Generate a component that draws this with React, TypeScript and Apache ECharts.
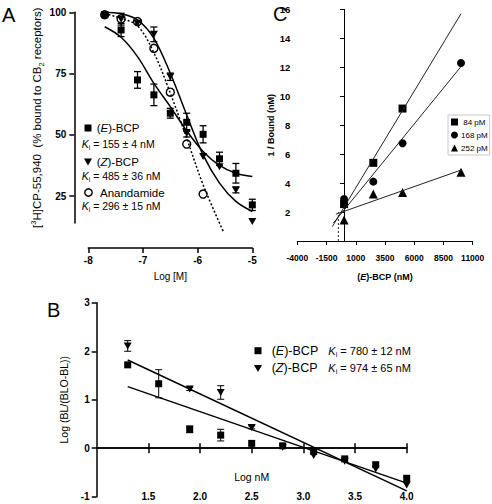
import React, { useEffect, useRef } from 'react';
import * as echarts from 'echarts';

const FONT = 'Liberation Sans, Arial, Helvetica, sans-serif';
const BLACK = '#000';

// ---------- Panel A : competition binding ----------
const aLogM = [-7.7, -7.4, -7.1, -6.8, -6.5, -6.2, -5.9, -5.6, -5.3, -5.0];
const aEMean = [99, 92.8, 72.4, 66.3, 58.8, 55.1, 50.2, 40.2, 34.3, 21.4];
const aEErr = [0, 2.7, 3.4, 4.4, 2.0, 3.7, 3.5, 2.7, 4.0, 2.3];
const aZMean = [99, 97.2, 95.5, 91.0, 73.7, 50.6, 41.1, 37.0, 27.5, 14.6];
const aZErr = [0, 2.4, 0, 3.0, 1.5, 1.5, 0, 0, 1.2, 0];
const aAnaLogM = [-7.7, -7.4, -7.1, -6.8, -6.5, -6.2, -5.9];
const aAnaMean = [99, 97.3, 96.2, 85.3, 67.4, 46.2, 25.8];
// fitted curves
const aFitX = [-7.7, -7.4, -7.1, -6.8, -6.5, -6.2, -5.9, -5.6, -5.3, -5.0];
const aFitE = [94.1, 89.8, 81.9, 71.0, 61.5, 51.6, 43.2, 37.5, 34.3, 33.0];
const aFitZ = [100, 99.4, 96.9, 89.4, 75.1, 58.1, 41.8, 30.3, 22.8, 18.7];
const aFitAnaX = [-7.7, -7.4, -7.1, -6.8, -6.5, -6.2, -5.9, -5.53];
const aFitAna = [99.5, 97.5, 94.5, 83.5, 67.0, 48.6, 29.6, 10.5];
const aYTicks = [25, 50, 75, 100];

// ---------- Panel B : Hill plot ----------
const bLogNM = [1.3, 1.6, 1.9, 2.2, 2.5, 2.8, 3.1, 3.4, 3.7, 4.0];
const bEMean = [1.72, 1.33, 0.39, 0.27, 0.1, 0.05, -0.07, -0.22, -0.34, -0.62];
const bEErr = [0, 0.29, 0.07, 0.12, 0, 0, 0, 0, 0, 0];
const bZLogNM = [1.3, 1.9, 2.2, 2.5, 2.8, 3.1, 3.4, 3.7, 4.0];
const bZMean = [2.11, 1.22, 1.15, 0.43, 0.02, -0.15, -0.27, -0.43, -0.76];
const bZErr = [0.11, 0.03, 0.14, 0.03, 0, 0, 0, 0, 0];
const bFitX = [1.3, 4.0];
const bFitZ = [1.82, -0.88];
const bFitE = [1.27, -0.72];
const bXTicks = [1.5, 2.0, 2.5, 3.0, 3.5, 4.0];

// ---------- Panel C : Dixon plot ----------
const cConc = [0, 2500, 5000, 10000];
const c84 = [2.55, 5.4, 9.15];
const c168 = [2.9, 4.1, 6.75, 12.3];
const c252 = [1.45, 3.25, 3.35, 4.75];
const cFit84X = [-1000, 10000];
const cFit84 = [1.0, 15.7];
const cFit168X = [-900, 10000];
const cFit168 = [1.25, 12.05];
const cFit252X = [-700, 10000];
const cFit252 = [1.85, 4.9];
const cCrossX = [-490, -490];
const cCrossY = [0, 2.0];
const cYTicks = [2, 4, 6, 8, 10, 12, 14, 16];

const zip = (xs: number[], ys: number[]) => ys.map((y, i) => [xs[i], y]);
const zip3 = (xs: number[], ys: number[], es: number[]) =>
  ys.map((y, i) => [xs[i], y, es[i]]).filter((d) => d[2] > 0);

function errBar(capHalf: number, lw: number) {
  return (_params: any, api: any) => {
    const x = api.value(0);
    const y = api.value(1);
    const e = api.value(2);
    const p1 = api.coord([x, y + e]);
    const p2 = api.coord([x, y - e]);
    const st = { stroke: BLACK, lineWidth: lw };
    return {
      type: 'group',
      children: [
        { type: 'line', shape: { x1: p1[0], y1: p1[1], x2: p2[0], y2: p2[1] }, style: st },
        { type: 'line', shape: { x1: p1[0] - capHalf, y1: p1[1], x2: p1[0] + capHalf, y2: p1[1] }, style: st },
        { type: 'line', shape: { x1: p2[0] - capHalf, y1: p2[1], x2: p2[0] + capHalf, y2: p2[1] }, style: st },
      ],
    };
  };
}

const axisLineStyle = (w: number) => ({ color: BLACK, width: w });

function richKi(size: number) {
  return {
    k: { fontStyle: 'italic', fontSize: size, fontFamily: FONT, lineHeight: 14 },
    s: { fontSize: size * 0.65, fontFamily: FONT, verticalAlign: 'bottom' },
    n: { fontSize: size, fontFamily: FONT, lineHeight: 14 },
  };
}
function richName(size: number) {
  return {
    i: { fontStyle: 'italic', fontSize: size, fontFamily: FONT },
    n: { fontSize: size, fontFamily: FONT },
  };
}

function txt(x: number, y: number, text: string, size: number, rich?: any, align = 'left') {
  return {
    type: 'text',
    x,
    y,
    silent: true,
    style: {
      text,
      fontSize: size,
      fontFamily: FONT,
      fill: BLACK,
      align,
      verticalAlign: 'middle',
      rich,
    },
  };
}

function buildOption(): any {
  const gridA = { left: 88.3, top: 12.3, width: 164, height: 210.7, outerBoundsMode: 'none' };
  const gridB = { left: 96.7, top: 302.8, width: 310, height: 193.9, outerBoundsMode: 'none' };
  const gridC = { left: 297.3, top: 9.4, width: 175.4, height: 231.6, outerBoundsMode: 'none' };

  const lineBase = {
    type: 'line',
    symbol: 'none',
    showSymbol: false,
    silent: true,
  };

  return {
    animation: false,
    backgroundColor: '#fff',
    textStyle: { fontFamily: FONT, color: BLACK },
    grid: [gridA, gridB, { ...gridB }, { ...gridB }, gridC],
    xAxis: [
      {
        gridIndex: 0,
        type: 'value',
        min: -8,
        max: -5,
        interval: 1,
        offset: 25,
        axisLine: { show: true, onZero: false, lineStyle: axisLineStyle(1.5) },
        axisTick: { show: true, length: 5, lineStyle: axisLineStyle(1.5) },
        axisLabel: { color: BLACK, fontWeight: 'bold', fontSize: 10, margin: 7, fontFamily: FONT },
        splitLine: { show: false },
        name: 'Log [M]',
        nameLocation: 'middle',
        nameGap: 23,
        nameTextStyle: { color: BLACK, fontSize: 10, fontFamily: FONT },
      },
      {
        gridIndex: 1,
        type: 'value',
        min: 1,
        max: 4,
        axisLine: { show: true, onZero: true, lineStyle: axisLineStyle(1.5) },
        axisTick: { show: true, length: 5, customValues: bXTicks, lineStyle: axisLineStyle(1.5) },
        axisLabel: { show: false },
        splitLine: { show: false },
      },
      {
        gridIndex: 2,
        type: 'value',
        min: 1,
        max: 4,
        axisLine: { show: true, onZero: true, lineStyle: axisLineStyle(1.5) },
        axisTick: { show: true, inside: true, length: 5, customValues: bXTicks, lineStyle: axisLineStyle(1.5) },
        axisLabel: { show: false },
        splitLine: { show: false },
      },
      {
        gridIndex: 3,
        type: 'value',
        min: 1,
        max: 4,
        axisLine: { show: false, onZero: false },
        axisTick: { show: false },
        axisLabel: {
          customValues: bXTicks,
          formatter: (v: number) => v.toFixed(1),
          color: BLACK,
          fontWeight: 'bold',
          fontSize: 10,
          margin: -5,
          fontFamily: FONT,
        },
        splitLine: { show: false },
      },
      {
        gridIndex: 4,
        type: 'value',
        min: -4000,
        max: 11000,
        interval: 2500,
        axisLine: { show: true, onZero: false, lineStyle: axisLineStyle(1) },
        axisTick: { show: true, length: 4, lineStyle: axisLineStyle(1) },
        axisLabel: {
          color: BLACK,
          fontWeight: 'bold',
          fontSize: 8.5,
          margin: 12,
          fontFamily: FONT,
          formatter: (v: number) => String(Math.round(v)),
        },
        splitLine: { show: false },
        name: '({i|E})-BCP (nM)',
        nameLocation: 'middle',
        nameGap: 31,
        nameTextStyle: {
          color: BLACK,
          fontSize: 9,
          fontWeight: 'bold',
          fontFamily: FONT,
          rich: { i: { fontStyle: 'italic', fontWeight: 'bold', fontSize: 9, fontFamily: FONT } },
        },
      },
    ],
    yAxis: [
      {
        gridIndex: 0,
        type: 'value',
        min: 14,
        max: 100,
        offset: 14,
        axisLine: { show: true, onZero: false, lineStyle: axisLineStyle(1.5) },
        axisTick: { show: true, length: 5, customValues: aYTicks, lineStyle: axisLineStyle(1.5) },
        axisLabel: {
          customValues: aYTicks,
          color: BLACK,
          fontWeight: 'bold',
          fontSize: 10,
          margin: 8,
          fontFamily: FONT,
        },
        splitLine: { show: false },
        name: '[{sup|3}H]CP-55,940  (% bound to CB{sub|2} receptors)',
        nameLocation: 'middle',
        nameRotate: 90,
        nameGap: 29,
        nameTextStyle: {
          color: BLACK,
          fontSize: 11.5,
          lineHeight: 16,
          fontFamily: FONT,
          rich: {
            sup: { fontSize: 7.5, fontFamily: FONT, verticalAlign: 'top' },
            sub: { fontSize: 7.5, fontFamily: FONT, verticalAlign: 'bottom' },
          },
        },
      },
      {
        gridIndex: 1,
        type: 'value',
        min: -1,
        max: 3,
        interval: 1,
        axisLine: { show: true, onZero: false, lineStyle: axisLineStyle(1.5) },
        axisTick: { show: true, length: 5, lineStyle: axisLineStyle(1.5) },
        axisLabel: { color: BLACK, fontWeight: 'bold', fontSize: 10, margin: 7, fontFamily: FONT },
        splitLine: { show: false },
        name: 'Log (BL/(BLO-BL))',
        nameLocation: 'middle',
        nameRotate: 90,
        nameGap: 19,
        nameTextStyle: { color: BLACK, fontSize: 10.5, fontFamily: FONT },
      },
      { gridIndex: 2, type: 'value', min: -1, max: 3, show: false, splitLine: { show: false } },
      { gridIndex: 3, type: 'value', min: -1, max: 3, show: false, splitLine: { show: false } },
      {
        gridIndex: 4,
        type: 'value',
        min: 0,
        max: 16,
        interval: 2,
        axisLine: { show: true, onZero: true, lineStyle: axisLineStyle(1) },
        axisTick: { show: true, length: 4, customValues: cYTicks, lineStyle: axisLineStyle(1) },
        axisLabel: {
          customValues: cYTicks,
          color: BLACK,
          fontWeight: 'bold',
          fontSize: 9.5,
          margin: 7,
          fontFamily: FONT,
        },
        splitLine: { show: false },
        name: '1 / Bound (nM)',
        nameLocation: 'middle',
        nameRotate: 90,
        nameGap: 22,
        nameTextStyle: { color: BLACK, fontSize: 9, fontWeight: 'bold', fontFamily: FONT },
      },
    ],
    legend: {
      data: [' 84 pM', '168 pM', '252 pM'],
      orient: 'vertical',
      left: 448,
      top: 115,
      itemWidth: 7,
      itemHeight: 7,
      itemGap: 5,
      padding: [3, 2, 3, 3],
      borderColor: '#c8c8c8',
      borderWidth: 1,
      selectedMode: false,
      textStyle: { fontSize: 8, color: BLACK, fontFamily: FONT, padding: [0, 0, 0, -2] },
    },
    series: [
      // ---- A ----
      { ...lineBase, xAxisIndex: 0, yAxisIndex: 0, smooth: 0.35, data: zip(aFitX, aFitE), lineStyle: { color: BLACK, width: 1.5 } },
      { ...lineBase, xAxisIndex: 0, yAxisIndex: 0, smooth: 0.35, data: zip(aFitX, aFitZ), lineStyle: { color: BLACK, width: 1.5 } },
      {
        ...lineBase,
        xAxisIndex: 0,
        yAxisIndex: 0,
        smooth: 0.35,
        clip: false,
        data: zip(aFitAnaX, aFitAna),
        lineStyle: { color: BLACK, width: 1.5, type: [2, 2] },
      },
      { type: 'custom', xAxisIndex: 0, yAxisIndex: 0, silent: true, renderItem: errBar(3.5, 1.3), encode: { x: 0, y: 1 }, data: zip3(aLogM, aEMean, aEErr) },
      { type: 'custom', xAxisIndex: 0, yAxisIndex: 0, silent: true, renderItem: errBar(3.5, 1.3), encode: { x: 0, y: 1 }, data: zip3(aLogM, aZMean, aZErr) },
      {
        type: 'scatter',
        name: 'Anandamide',
        xAxisIndex: 0,
        yAxisIndex: 0,
        silent: true,
        symbol: 'circle',
        symbolSize: 8,
        itemStyle: { color: '#fff', borderColor: BLACK, borderWidth: 1.4, opacity: 1 },
        data: zip(aAnaLogM, aAnaMean),
      },
      {
        type: 'scatter',
        name: '(E)-BCP',
        xAxisIndex: 0,
        yAxisIndex: 0,
        silent: true,
        symbol: 'rect',
        symbolSize: 7,
        itemStyle: { color: BLACK, opacity: 1 },
        data: zip(aLogM, aEMean),
      },
      {
        type: 'scatter',
        name: '(Z)-BCP',
        xAxisIndex: 0,
        yAxisIndex: 0,
        silent: true,
        symbol: 'triangle',
        symbolRotate: 180,
        symbolSize: [8, 7],
        itemStyle: { color: BLACK, opacity: 1 },
        data: zip(aLogM, aZMean),
      },
      // ---- B ----
      { ...lineBase, xAxisIndex: 1, yAxisIndex: 1, data: zip(bFitX, bFitZ), lineStyle: { color: BLACK, width: 1.5 } },
      { ...lineBase, xAxisIndex: 1, yAxisIndex: 1, data: zip(bFitX, bFitE), lineStyle: { color: BLACK, width: 1.5 } },
      { type: 'custom', xAxisIndex: 1, yAxisIndex: 1, silent: true, renderItem: errBar(3.5, 1), encode: { x: 0, y: 1 }, data: zip3(bLogNM, bEMean, bEErr) },
      { type: 'custom', xAxisIndex: 1, yAxisIndex: 1, silent: true, renderItem: errBar(3.5, 1), encode: { x: 0, y: 1 }, data: zip3(bZLogNM, bZMean, bZErr) },
      {
        type: 'scatter',
        name: 'B (E)-BCP',
        xAxisIndex: 1,
        yAxisIndex: 1,
        silent: true,
        symbol: 'rect',
        symbolSize: 7,
        itemStyle: { color: BLACK, opacity: 1 },
        data: zip(bLogNM, bEMean),
      },
      {
        type: 'scatter',
        name: 'B (Z)-BCP',
        xAxisIndex: 1,
        yAxisIndex: 1,
        silent: true,
        symbol: 'triangle',
        symbolRotate: 180,
        symbolSize: [8, 7],
        itemStyle: { color: BLACK, opacity: 1 },
        data: zip(bZLogNM, bZMean),
      },
      // ---- C ----
      { ...lineBase, xAxisIndex: 4, yAxisIndex: 4, data: zip(cFit84X, cFit84), lineStyle: { color: '#222', width: 1 } },
      { ...lineBase, xAxisIndex: 4, yAxisIndex: 4, data: zip(cFit168X, cFit168), lineStyle: { color: '#222', width: 1 } },
      { ...lineBase, xAxisIndex: 4, yAxisIndex: 4, data: zip(cFit252X, cFit252), lineStyle: { color: '#222', width: 1 } },
      { ...lineBase, xAxisIndex: 4, yAxisIndex: 4, data: zip(cCrossX, cCrossY), lineStyle: { color: '#222', width: 1, type: [2, 2] } },
      {
        type: 'scatter',
        name: ' 84 pM',
        xAxisIndex: 4,
        yAxisIndex: 4,
        silent: true,
        symbol: 'rect',
        symbolSize: 8,
        itemStyle: { color: BLACK, opacity: 1 },
        data: zip(cConc, c84),
      },
      {
        type: 'scatter',
        name: '168 pM',
        xAxisIndex: 4,
        yAxisIndex: 4,
        silent: true,
        symbol: 'circle',
        symbolSize: 8,
        itemStyle: { color: BLACK, opacity: 1 },
        data: zip(cConc, c168),
      },
      {
        type: 'scatter',
        name: '252 pM',
        xAxisIndex: 4,
        yAxisIndex: 4,
        silent: true,
        symbol: 'triangle',
        symbolSize: 9,
        itemStyle: { color: BLACK, opacity: 1 },
        data: zip(cConc, c252),
      },
    ],
    graphic: [
      // panel letters
      txt(2, 15, 'A', 20),
      txt(47, 310, 'B', 20),
      txt(273, 14, 'C', 20),
      // Panel A legend
      { type: 'rect', silent: true, shape: { x: 84.5, y: 124.5, width: 7, height: 7 }, style: { fill: BLACK } },
      txt(96.7, 128, '({i|E})-BCP', 11.5, richName(11.5)),
      txt(81.7, 144, '{k|K}{s|i} = 155 ± 4 nM', 10.5, richKi(10.5)),
      { type: 'polygon', silent: true, shape: { points: [[84, 158.5], [92, 158.5], [88, 165.5]] }, style: { fill: BLACK } },
      txt(96.7, 162, '({i|Z})-BCP', 11.5, richName(11.5)),
      txt(81.7, 176, '{k|K}{s|i} = 485 ± 36 nM', 10.5, richKi(10.5)),
      { type: 'circle', silent: true, shape: { cx: 88.5, cy: 192.5, r: 3.7 }, style: { fill: '#fff', stroke: BLACK, lineWidth: 1.4 } },
      txt(100, 192.5, 'Anandamide', 11.5),
      txt(81.7, 205.5, '{k|K}{s|i} = 296 ± 15 nM', 10.5, richKi(10.5)),
      // Panel B legend
      { type: 'rect', silent: true, shape: { x: 254.5, y: 347.2, width: 7, height: 7 }, style: { fill: BLACK } },
      txt(271.7, 351, '({i|E})-BCP', 12.5, richName(12.5)),
      txt(328.3, 351, '{k|K}{s|i} = 780 ± 12 nM', 11, richKi(11)),
      { type: 'polygon', silent: true, shape: { points: [[254, 365], [262, 365], [258, 372]] }, style: { fill: BLACK } },
      txt(271.7, 368.3, '({i|Z})-BCP', 12.5, richName(12.5)),
      txt(328.3, 368.3, '{k|K}{s|i} = 974 ± 65 nM', 11, richKi(11)),
      // Panel B x-axis title
      txt(251.7, 477, 'Log nM', 10.5, undefined, 'center'),
    ],
  };
}

export default function App() {
  const ref = useRef<HTMLDivElement>(null);
  useEffect(() => {
    const el = ref.current;
    if (!el) return;
    const chart = echarts.init(el, null, { renderer: 'svg' });
    chart.setOption(buildOption());
    return () => chart.dispose();
  }, []);
  return (
    <div
      ref={ref}
      style={{ position: 'fixed', left: 0, top: 0, width: 492, height: 504, background: '#fff' }}
    />
  );
}
